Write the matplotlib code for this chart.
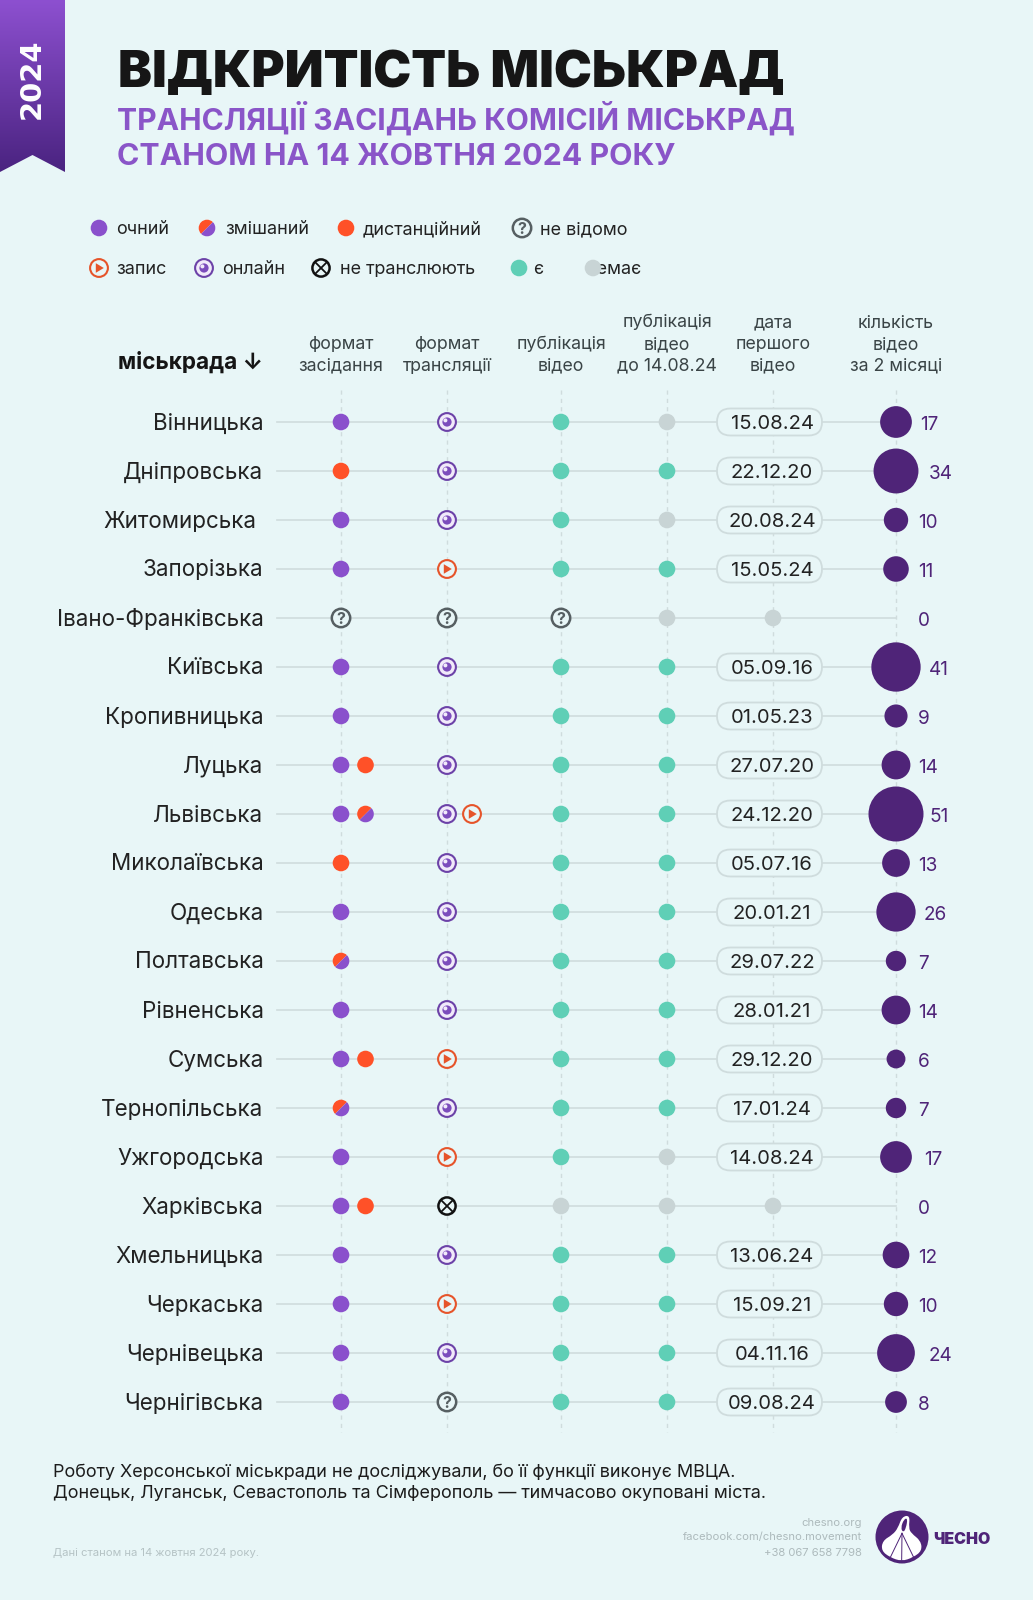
import matplotlib
matplotlib.use("Agg")
import numpy as np
import matplotlib.pyplot as plt
from matplotlib.patches import Circle, Wedge, Polygon, FancyBboxPatch, PathPatch
from matplotlib.path import Path

cities = ["Вінницька","Дніпровська","Житомирська","Запорізька","Івано-Франківська","Київська",
          "Кропивницька","Луцька","Львівська","Миколаївська","Одеська","Полтавська","Рівненська",
          "Сумська","Тернопільська","Ужгородська","Харківська","Хмельницька","Черкаська",
          "Чернівецька","Чернігівська"]
meeting = [["o"],["d"],["o"],["o"],["q"],["o"],["o"],["o","d"],["o","m"],["d"],["o"],["m"],["o"],
           ["o","d"],["m"],["o"],["o","d"],["o"],["o"],["o"],["o"]]
stream = [["on"],["on"],["on"],["rec"],["q"],["on"],["on"],["on"],["on","rec"],["on"],["on"],["on"],
          ["on"],["rec"],["on"],["rec"],["no"],["on"],["rec"],["on"],["q"]]
published = ["y","y","y","y","q","y","y","y","y","y","y","y","y","y","y","y","n","y","y","y","y"]
before_aug = ["n","y","n","y","n","y","y","y","y","y","y","y","y","y","y","n","n","y","y","y","y"]
first_date = ["15.08.24","22.12.20","20.08.24","15.05.24",None,"05.09.16","01.05.23","27.07.20",
              "24.12.20","05.07.16","20.01.21","29.07.22","28.01.21","29.12.20","17.01.24",
              "14.08.24",None,"13.06.24","15.09.21","04.11.16","09.08.24"]
video_count = [17,34,10,11,0,41,9,14,51,13,26,7,14,6,7,17,0,12,10,24,8]

headers = ["формат\nзасідання","формат\nтрансляції","публікація\nвідео",
           "публікація\nвідео\nдо 14.08.24","дата\nпершого\nвідео","кількість\nвідео\nза 2 місяці"]

BG="#e8f6f7"; PURPLE="#8a50cc"; ORANGE="#ff5128"; TEAL="#5fcfb6"; GRAY="#c8d4d5"; DARK="#4f2478"
RING_P="#6c42a8"; RING_O="#e6542a"; RING_G="#565f62"; LINE="#cfdcdd"; INK="#1a1a1a"
FONT="Inter"
plt.rcParams['font.family']=[FONT,'DejaVu Sans']

W,H=1033,1600
fig=plt.figure(figsize=(W/100,H/100),dpi=100,facecolor=BG)
ax=fig.add_axes([0,0,1,1]); ax.set_xlim(0,W); ax.set_ylim(H,0); ax.axis("off")
def fs(px): return px*0.72

def txt(x,y,s,px,color=INK,ha="left",va="baseline",weight="normal",**k):
    return ax.text(x,y,s,fontsize=fs(px),color=color,ha=ha,va=va,fontweight=weight,**k)

def dot(x,y,c,r=8.3,z=5): ax.add_patch(Circle((x,y),r,fc=c,ec="none",zorder=z))
def mixed(x,y,r=8.3,z=5):
    ax.add_patch(Wedge((x,y),r,135,315,fc=ORANGE,ec="none",zorder=z))
    ax.add_patch(Wedge((x,y),r,315,135,fc=PURPLE,ec="none",zorder=z))
def ring(x,y,c,fill=BG,r=8.9,lw=1.5,z=5):
    ax.add_patch(Circle((x,y),r,fc=fill,ec=c,lw=lw,zorder=z))
def online(x,y):
    ring(x,y,RING_P,fill="#f1eafa")
    dot(x,y,"#7c4cbc",r=4.6,z=6)
    dot(x-1.6,y-1.6,"#f1eafa",r=2.0,z=7)
def rec(x,y):
    ring(x,y,RING_O)
    ax.add_patch(Polygon([(x-3.2,y-4.8),(x-3.2,y+4.8),(x+4.8,y)],fc=RING_O,ec="none",zorder=6))
def unknown(x,y):
    ring(x,y,RING_G,r=9.2,lw=1.8)
    ax.text(x,y+5.8,"?",fontsize=fs(16),color=RING_G,ha="center",va="baseline",fontweight="bold",zorder=6)
def nostream(x,y):
    ring(x,y,"#111111",r=8.6,lw=1.8)
    d=5.8
    ax.plot([x-d,x+d],[y-d,y+d],color="#111111",lw=1.3,zorder=6)
    ax.plot([x-d,x+d],[y+d,y-d],color="#111111",lw=1.3,zorder=6)
def draw(kind,x,y):
    {"o":lambda:dot(x,y,PURPLE),"d":lambda:dot(x,y,ORANGE),"m":lambda:mixed(x,y),"q":lambda:unknown(x,y),
     "on":lambda:online(x,y),"rec":lambda:rec(x,y),"no":lambda:nostream(x,y),
     "y":lambda:dot(x,y,TEAL),"n":lambda:dot(x,y,GRAY)}[kind]()

def smooth(pts,fc,z):
    p=[(860+a/3,1500+b/3) for a,b in pts]
    mids=[((p[i][0]+p[(i+1)%len(p)][0])/2,(p[i][1]+p[(i+1)%len(p)][1])/2) for i in range(len(p))]
    verts=[mids[-1]]; codes=[Path.MOVETO]
    for i in range(len(p)):
        verts+= [p[i],mids[i]]; codes+=[Path.CURVE3,Path.CURVE3]
    ax.add_patch(PathPatch(Path(verts,codes),fc=fc,ec="none",zorder=z))

# ribbon
grad=np.linspace(0,1,256).reshape(-1,1)
cm=matplotlib.colors.LinearSegmentedColormap.from_list("r",["#8d50d0","#4a2380"])
im=ax.imshow(grad,extent=(0,65,172,0),cmap=cm,aspect="auto",zorder=1)
rib=Polygon([(0,0),(65,0),(65,172),(32.5,155),(0,172)],transform=ax.transData,fc="none",ec="none")
ax.add_patch(rib); im.set_clip_path(rib)
ax.set_xlim(0,W); ax.set_ylim(H,0)
ax.text(32,78.5,"2024",rotation=90,color="white",fontsize=fs(29),fontweight="bold",ha="center",va="center",
        family="DejaVu Sans",zorder=3)

# titles
txt(118,87,"ВІДКРИТІСТЬ МІСЬКРАД",50.8,color="#161616",weight="black")
txt(117,130,"ТРАНСЛЯЦІЇ ЗАСІДАНЬ КОМІСІЙ МІСЬКРАД",30.1,color="#8a55c8",weight="bold")
txt(117,165,"СТАНОМ НА 14 ЖОВТНЯ 2024 РОКУ",30.4,color="#8a55c8",weight="bold")

# legend
LP=18
for x,y,k,t,tx in [(99,228,"o","очний",116),(207,228,"m","змішаний",225),(346,228,"d","дистанційний",363),
                   (522,228,"q","не відомо",540),(99,268,"rec","запис",116),(204,268,"on","онлайн",222),
                   (321,268,"no","не транслюють",340),(519,268,"y","є",533),(593,268,"n","немає",587)]:
    draw(k,x,y); txt(tx,y+6,t,LP,color="#222222",zorder=4)

# columns
COLS=[341,447,561,667,773,896]
TOP,BOT=390,1432
ROW0,STEP=422,49
for x in COLS:
    ax.plot([x,x],[TOP,BOT],color=LINE,lw=1,ls=(0,(3,3)),zorder=1)
HEAD_Y=[327.5,349,370.5]
for x,h in zip(COLS,headers):
    ls=h.split("\n")
    for t,y in zip(ls,HEAD_Y[-len(ls):]):
        txt(x,y,t,17.7,color="#3a4446",ha="center")
txt(263,369,"міськрада ↓",22.5,color="#151515",ha="right",weight="bold")

nudge_name={"Житомирська":-7}
nudge_count={"Чернівецька":6,"Ужгородська":4,"Дніпровська":2,"Львівська":-2}
for i,c in enumerate(cities):
    y=ROW0+i*STEP
    txt(263.5+nudge_name.get(c,0),y+7.5,c,22.4,color="#222222",ha="right")
    ax.plot([277,896],[y,y],color=LINE,lw=1.2,zorder=2)
    for j,k in enumerate(meeting[i]): draw(k,COLS[0]+j*24.5,y)
    for j,k in enumerate(stream[i]): draw(k,COLS[1]+j*25,y)
    draw(published[i],COLS[2],y)
    draw(before_aug[i],COLS[3],y)
    if first_date[i] is None:
        dot(COLS[4],y,GRAY)
    else:
        ax.add_patch(FancyBboxPatch((730.5,y),78,0,boxstyle="round,pad=13.5,rounding_size=13.5",fc=BG,ec=LINE,lw=1.3,zorder=3))
        txt(772,y+7,first_date[i],20.2,color="#222222",ha="center",zorder=4)
    v=video_count[i]
    r=3.85*np.sqrt(v)
    if v: dot(COLS[5],y,DARK,r=r,z=5)
    left=max(918,COLS[5]+r+8)+nudge_count.get(c,0)
    txt(left,y+8,str(v),19,color=DARK)

# footer
txt(53,1477,"Роботу Херсонської міськради не досліджували, бо її функції виконує МВЦА.",18,color="#1c1c1c")
txt(53,1498,"Донецьк, Луганськ, Севастополь та Сімферополь — тимчасово окуповані міста.",18,color="#1c1c1c")
txt(53,1556,"Дані станом на 14 жовтня 2024 року.",11.2,color="#b5c3c5")
for y,t in [(1526,"chesno.org"),(1540,"facebook.com/chesno.movement"),(1556,"+38 067 658 7798")]:
    txt(862,y,t,11.2,color="#adbabc",ha="right")
dot(902,1537,DARK,r=26.5)
smooth([(126,50),(150,46),(146,84),(154,100),(182,122),(186,152),(160,172),(125,184),(90,172),(64,152),(68,122),(98,104),(114,84)],"white",6)
smooth([(132,57),(143,55),(138,84),(130,98),(122,84)],DARK,7)
for a,b in [((126,100),(92,170)),((126,100),(125,180)),((126,100),(160,170))]:
    ax.plot([860+a[0]/3,860+b[0]/3],[1500+a[1]/3,1500+b[1]/3],color=DARK,lw=0.7,zorder=8)
txt(933,1544,"ЧЕСНО",16,color=DARK,weight="black")

fig.savefig("out.png",dpi=100,facecolor=BG)
